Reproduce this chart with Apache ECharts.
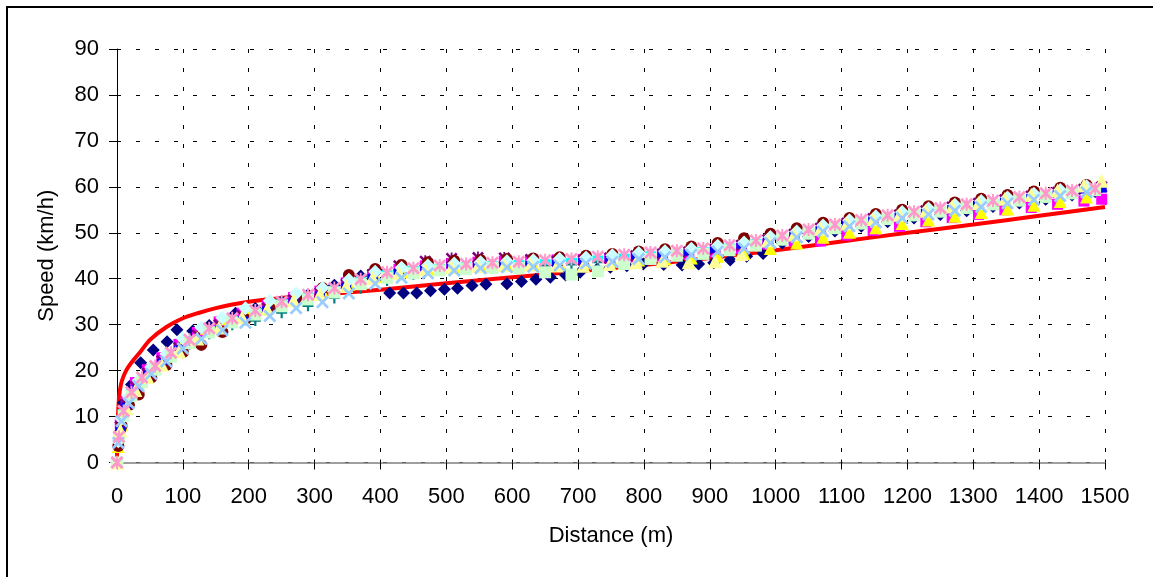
<!DOCTYPE html>
<html>
<head>
<meta charset="utf-8">
<title>Speed vs Distance</title>
<script src="https://cdn.jsdelivr.net/npm/echarts@6/dist/echarts.min.js"></script>
<style>
  html, body { margin: 0; padding: 0; background: #fff; }
  #chart { width: 1153px; height: 577px; }
</style>
</head>
<body>
<div id="chart"></div>
<script>
// Distance sampling grids (m) shared by groups of runs
const distGridA = [0, 3, 10, 22, 38, 58, 82, 110, 140, 175, 210, 250, 290, 330, 370, 410, 450, 490, 530, 570, 610, 650, 690, 730, 770, 810, 850, 890, 930, 970, 1010, 1050, 1090, 1130, 1170, 1210, 1250, 1290, 1330, 1370, 1410, 1450, 1485];
const distGridB = [0, 5, 14, 28, 46, 68, 94, 122, 155, 190, 228, 268, 308, 348, 388, 428, 468, 508, 548, 588, 628, 668, 708, 748, 788, 828, 868, 908, 948, 988, 1028, 1068, 1108, 1148, 1188, 1228, 1268, 1308, 1348, 1388, 1428, 1468, 1495];
const distGridC = [0, 2, 7, 18, 33, 52, 75, 100, 128, 160, 195, 232, 272, 312, 352, 392, 432, 472, 512, 552, 592, 632, 672, 712, 752, 792, 832, 872, 912, 952, 992, 1032, 1072, 1112, 1152, 1192, 1232, 1272, 1312, 1352, 1392, 1432, 1472];

// Run 1 has its own, denser sampling
const run1Dist = [0, 4, 10, 22, 36, 55, 76, 91, 115, 140, 180, 210, 250, 290, 330, 370, 395, 414, 435, 455, 476, 497, 517, 539, 560, 592, 614, 636, 658, 681, 703, 729, 749, 774, 799, 830, 858, 883, 906, 931, 956, 981, 1010, 1050, 1090, 1130, 1170, 1210, 1250, 1290, 1330, 1370, 1410, 1450, 1485];
const run1Speed = [0, 6, 13, 17, 21.7, 24.5, 26.3, 28.9, 28.6, 29.8, 32.5, 33.5, 35, 36.5, 38.6, 40.6, 41.8, 36.9, 36.9, 36.9, 37.4, 37.7, 37.9, 38.5, 38.8, 38.9, 39.4, 39.9, 40.3, 40.8, 41.4, 42.1, 42.5, 42.8, 43.2, 43.1, 43, 43.2, 43.5, 44.1, 44.9, 45.5, 47.8, 49.2, 50.4, 51.4, 52.4, 53.2, 54, 54.8, 55.7, 56.5, 57.3, 58.2, 59];

// Measured speeds (km/h)
const run2Speed = [0, 8.5, 13.3, 17.4, 20.2, 22.8, 25.7, 28.3, 30.6, 32.5, 34.2, 35.9, 37.3, 39.1, 40.9, 42, 42.8, 43.3, 43.6, 43.8, 44, 44.1, 44.2, 44.4, 44.7, 45, 45.3, 45.8, 46.6, 47.5, 48.2, 48.2, 49.5, 50.5, 51.4, 52.4, 53.3, 54, 55, 55.5, 56.2, 56.9, 57.3];
const run3Speed = [0, 3.5, 8.2, 13.8, 17.6, 20.6, 23.5, 26.8, 29.2, 31.3, 33.4, 35.1, 36.3, 37.2, 38.8, 40.5, 41.5, 42.1, 42.5, 42.8, 43, 43.1, 43.3, 43.5, 43.8, 44.1, 44.3, 44.5, 44.9, 45.5, 46.6, 47.8, 49, 50.1, 51.1, 52, 52.8, 53.6, 54.4, 55.2, 56, 56.8, 57.8];
const run4Speed = [0, 5.8, 11, 15.3, 18.3, 21, 23.8, 26.8, 29.1, 31.3, 33, 34.9, 36.3, 37.8, 39.8, 41.2, 42.1, 42.6, 42.9, 43.2, 43.4, 43.6, 43.9, 44.4, 44.8, 45.3, 45.7, 46.2, 47, 48, 49.1, 50.5, 51.6, 52.6, 53.6, 54.4, 55.2, 56, 56.8, 57.6, 58.4, 58.9, 58.9];
const run5Speed = [0, 7.8, 12.6, 16.5, 19.4, 22.1, 25, 27.7, 30, 32, 33.6, 35.4, 36.9, 38.8, 40.9, 42.8, 43.8, 44.4, 44.6, 44.5, 44.2, 43.8, 44, 44.5, 45, 45.4, 45.8, 46.4, 47.3, 48.5, 49.7, 51, 52.1, 53.1, 53.9, 54.8, 55.6, 56.4, 57.2, 58, 58.8, 59.5, 60];
const run6Speed = [0, 3.6, 8, 12.5, 14.8, 18.5, 21.2, 24, 25.6, 28.4, 31.2, 33.6, 35.8, 38, 40.8, 42.1, 43, 43.6, 43.9, 44.1, 44.3, 44.4, 44.7, 45, 45.4, 45.9, 46.4, 47, 47.8, 48.8, 49.8, 51, 52.2, 53.2, 54.1, 55, 55.8, 56.6, 57.4, 58.2, 59, 59.8, 60.4];
const run7Speed = [0, 4.8, 10, 14.2, 17.3, 20, 22.9, 25.8, 28, 30, 30.9, 32.6, 34.1, 35.8, 37.9, 39.6, 41, 41.8, 42.1, 42.4, 42.6, 42.8, 43.1, 43.6, 44, 44.5, 44.9, 45.4, 46.2, 47.2, 48.3, 49.7, 50.8, 51.8, 52.8, 53.6, 54.4, 55.2, 56, 56.8, 57.6, 58.4, 59.1];
const run8Speed = [0, 7.2, 12.4, 16.2, 19.3, 21.9, 24.8, 26.5, 28.6, 31.2, 33.4, 35.2, 36.6, 38.5, 40.4, 41.5, 42.3, 42.7, 42.9, 43, 43.2, 43.4, 43.9, 44.4, 44.9, 45.3, 45.7, 46.3, 47.2, 48.3, 49.5, 50.8, 51.9, 52.9, 53.7, 54.6, 55.4, 56.2, 57, 57.8, 58.6, 59.2, 59.4];
const run9Speed = [0, 4.6, 9.5, 14.3, 17.9, 20.8, 23.6, 27, 29.4, 31.5, 33.6, 35.2, 36.8, 38, 39.8, 41.5, 42.4, 42.9, 43.3, 43.6, 43.8, 44, 44.3, 44.6, 45.1, 45.6, 46, 46.5, 47.2, 47.9, 49.1, 50.3, 51.6, 52.7, 53.6, 54.5, 55.3, 56.1, 56.9, 57.7, 58.5, 59.3, 60.1];
const run10Speed = [0, 5.5, 10.2, 14.5, 17.5, 20.2, 23, 26, 28.3, 30.5, 32.2, 34, 35.5, 37, 38.8, 40.2, 41.2, 41.8, 42.1, 42.4, 42.3, 41.4, 40.9, 41.6, 43.2, 44.3, 45, 45.4, 46.2, 47.2, 48.5, 49.8, 51, 52, 53, 53.8, 54.6, 55.4, 56.2, 57, 57.8, 58.6, 59.3];
const run11Speed = [0, 7, 11.8, 15.8, 18.6, 21.3, 24.2, 27, 29.4, 31.6, 33.4, 35.3, 36.7, 38.4, 40.2, 41.3, 42, 42.5, 42.8, 43, 43.1, 42.9, 42.8, 43.2, 43.6, 43.9, 43.6, 43.8, 45.4, 48.3, 49.6, 50.9, 52, 53, 53.9, 54.8, 55.7, 56.5, 57.4, 58.3, 59.2, 60.3, 61.3];
const run12Speed = [0, 4.3, 9, 12.9, 16.6, 19.3, 22, 24.8, 26.9, 28.8, 30.4, 31.9, 33.6, 34.9, 36.8, 38.9, 40.2, 41.2, 41.8, 42.3, 42.5, 42.6, 42.9, 43.3, 43.7, 44.3, 44.7, 45.2, 45.9, 46.6, 47.8, 49, 50.3, 51.4, 52.3, 53.2, 54, 54.8, 55.6, 56.4, 57.2, 58, 58.8];
const run13Speed = [0, 5.6, 11.2, 15.3, 18.5, 21, 23.9, 26.7, 29.2, 31.4, 33.1, 35, 36.5, 38, 39.9, 41.4, 42.3, 42.9, 43.2, 43.5, 43.7, 44, 44.3, 44.8, 45.2, 45.7, 46.1, 46.6, 47.3, 48.3, 49.4, 50.7, 51.8, 52.8, 53.8, 54.6, 55.4, 56.2, 57, 57.8, 58.6, 59.2, 59.6];

// Model speed profile (red curve)
const modelDist = [0, 1, 3, 6, 10, 15, 25, 35, 50, 75, 100, 125, 150, 175, 200, 250, 300, 400, 500, 600, 700, 800, 900, 1000, 1100, 1200, 1300, 1400, 1500];
const modelSpeed = [1, 8, 14, 17, 18.8, 20.3, 22.3, 24, 26.7, 29.5, 31.4, 32.6, 33.6, 34.4, 35, 35.8, 36.4, 37.6, 39, 40.3, 41.6, 43, 44.5, 46.2, 48.1, 50, 51.8, 53.7, 55.6];

// Marker outlines
const X_PATH = 'path://M0,1.5 L1.5,0 L5,3.5 L8.5,0 L10,1.5 L6.5,5 L10,8.5 L8.5,10 L5,6.5 L1.5,10 L0,8.5 L3.5,5 Z';
const STAR_PATH = 'path://M0,1.5 L1.5,0 L5,3.5 L8.5,0 L10,1.5 L6.5,5 L10,8.5 L8.5,10 L5,6.5 L1.5,10 L0,8.5 L3.5,5 Z M4.25,0 L5.75,0 L5.75,10 L4.25,10 Z';
const PLUS_PATH = 'path://M4,0 L6,0 L6,4 L10,4 L10,6 L6,6 L6,10 L4,10 L4,6 L0,6 L0,4 L4,4 Z';

function pairs(dist, speed) {
  return dist.map((d, i) => [d, speed[i]]);
}

function run(name, dist, speed, color, symbol, size) {
  return {
    name: name,
    type: 'scatter',
    data: pairs(dist, speed),
    symbol: symbol,
    symbolSize: size,
    itemStyle: { color: color, opacity: 1 },
    emphasis: { disabled: true },
    z: 3
  };
}

const FONT = '"Liberation Sans", Arial, sans-serif';

const chart = echarts.init(document.getElementById('chart'), null, { renderer: 'canvas' });

const series = [
  {
    name: 'Model',
    type: 'line',
    data: pairs(modelDist, modelSpeed),
    showSymbol: false,
    smooth: 0.3,
    lineStyle: { color: '#ff0000', width: 4 },
    itemStyle: { color: '#ff0000' },
    z: 2
  },
  run('Run 1', run1Dist, run1Speed, '#000080', 'diamond', 13),
  run('Run 2', distGridB, run2Speed, '#ff00ff', 'rect', 11),
  run('Run 3', distGridC, run3Speed, '#ffff00', 'triangle', 13),
  run('Run 4', distGridA, run4Speed, '#00ffff', 'rect', [11, 6]),
  run('Run 5', distGridB, run5Speed, '#800080', STAR_PATH, 12),
  run('Run 6', distGridC, run6Speed, '#800000', 'circle', 12),
  run('Run 7', distGridA, run7Speed, '#008080', PLUS_PATH, 11),
  run('Run 8', distGridB, run8Speed, '#0000ff', 'rect', [10, 6]),
  run('Run 9', distGridC, run9Speed, '#ccffff', 'diamond', 14),
  run('Run 10', distGridA, run10Speed, '#ccffcc', 'rect', 12),
  run('Run 11', distGridB, run11Speed, '#ffff99', 'triangle', 14),
  run('Run 12', distGridC, run12Speed, '#99ccff', X_PATH, 13),
  run('Run 13', distGridA, run13Speed, '#ff99cc', STAR_PATH, 13)
];

const splitDash = { show: true, lineStyle: { color: '#000', width: 1, type: [4, 15] } };
const plainNumber = v => String(v);

chart.setOption({
  backgroundColor: '#ffffff',
  animation: false,
  graphic: [{
    type: 'rect',
    silent: true,
    z: -1,
    shape: { x: 7, y: 7, width: 1400, height: 800 },
    style: { fill: 'none', stroke: '#000', lineWidth: 2 }
  }],
  grid: { left: 117, right: 48, top: 49, bottom: 114.5, containLabel: false },
  xAxis: [{
    type: 'value',
    min: 0, max: 1500, interval: 100,
    name: 'Distance (m)',
    nameLocation: 'middle',
    nameGap: 62,
    nameTextStyle: { fontFamily: FONT, fontSize: 22, color: '#000' },
    axisLine: { show: true, onZero: false, lineStyle: { color: '#808080', width: 1.5 } },
    axisTick: { show: true, length: 7, lineStyle: { color: '#000' } },
    axisLabel: { margin: 23, fontFamily: FONT, fontSize: 22, color: '#000', formatter: plainNumber },
    splitLine: splitDash
  }, {
    type: 'value',
    min: 0, max: 1500, interval: 100,
    position: 'bottom',
    axisLine: { show: false },
    axisTick: { show: true, inside: true, length: 3, lineStyle: { color: '#000' } },
    axisLabel: { show: false },
    splitLine: { show: false }
  }],
  yAxis: [{
    type: 'value',
    min: 0, max: 90, interval: 10,
    name: 'Speed (km/h)',
    nameLocation: 'middle',
    nameGap: 59,
    nameRotate: 90,
    nameTextStyle: { fontFamily: FONT, fontSize: 22, color: '#000' },
    axisLine: { show: true, lineStyle: { color: '#000', width: 1 } },
    axisTick: { show: true, length: 8, lineStyle: { color: '#000' } },
    axisLabel: { margin: 18, fontFamily: FONT, fontSize: 22, color: '#000', formatter: plainNumber },
    splitLine: splitDash
  }, {
    type: 'value',
    min: 0, max: 90, interval: 10,
    position: 'left',
    axisLine: { show: false },
    axisTick: { show: true, inside: true, length: 2, lineStyle: { color: '#000' } },
    axisLabel: { show: false },
    splitLine: { show: false }
  }],
  tooltip: { show: false },
  legend: { show: false },
  series: series
});
</script>
</body>
</html>
